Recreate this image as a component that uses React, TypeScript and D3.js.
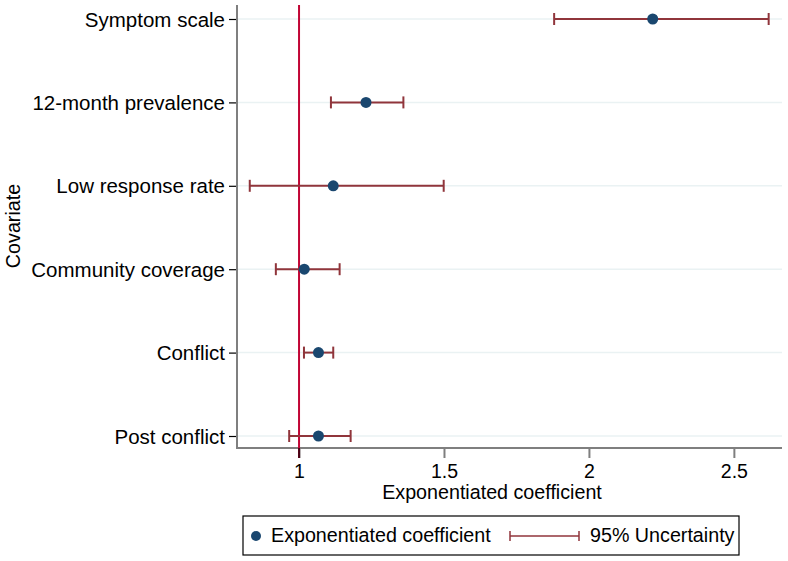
import React, { useEffect, useRef } from "react";
import * as d3 from "d3";

const covariates = [
  "Symptom scale",
  "12-month prevalence",
  "Low response rate",
  "Community coverage",
  "Conflict",
  "Post conflict",
];
const estimates = [2.22, 1.231, 1.118, 1.018, 1.067, 1.067];
const lowerCI = [1.88, 1.11, 0.83, 0.92, 1.017, 0.966];
const upperCI = [2.62, 1.36, 1.499, 1.14, 1.118, 1.178];
const xTicks = [1, 1.5, 2, 2.5];

const NAVY = "#1a476f";
const MAROON = "#90353b";
const REDLINE = "#c10534";
const AXIS = "#7f7f7f";
const FONT = "'Liberation Sans', Arial, sans-serif";

const App = () => {
  const ref = useRef<SVGSVGElement>(null);

  useEffect(() => {
    const svg = d3.select(ref.current);
    svg.selectAll("*").remove();

    const left = 237;
    const right = 782;
    const top = 5;
    const bottom = 448;

    const x = d3.scaleLinear().domain([0.786, 2.666]).range([left, right]);
    // rows spaced evenly, first at y=19, last at y=436
    const y = d3.scalePoint<string>().domain(covariates).range([19, 436]);

    const rows = covariates.map((c, i) => ({
      label: c,
      est: estimates[i],
      lo: lowerCI[i],
      hi: upperCI[i],
    }));

    svg.append("rect").attr("width", 788).attr("height", 561).attr("fill", "white");

    // light gridlines
    svg.append("g")
      .selectAll("line")
      .data(covariates)
      .enter()
      .append("line")
      .attr("x1", left)
      .attr("x2", right)
      .attr("y1", (d) => y(d)!)
      .attr("y2", (d) => y(d)!)
      .attr("stroke", "#eaf2f3")
      .attr("stroke-width", 1.5);

    // y axis
    const yAxis = svg.append("g")
      .attr("transform", `translate(${left - 1},0)`)
      .call(d3.axisLeft(y).tickSize(7).tickPadding(4));
    yAxis.select(".domain").remove();
    yAxis.selectAll(".tick line").attr("stroke", "#000").attr("stroke-width", 1.2);
    yAxis.selectAll(".tick text")
      .attr("font-family", FONT)
      .attr("font-size", 20.5)
      .attr("fill", "#000")
      .attr("dy", "0.35em");

    svg.append("line")
      .attr("x1", left).attr("x2", left)
      .attr("y1", top).attr("y2", bottom + 1)
      .attr("stroke", AXIS).attr("stroke-width", 2);

    // x axis
    const xAxis = svg.append("g")
      .attr("transform", `translate(0,${bottom + 1})`)
      .call(d3.axisBottom(x).tickValues(xTicks).tickFormat(d3.format("")).tickSize(9).tickPadding(6));
    xAxis.select(".domain").remove();
    xAxis.selectAll(".tick line").attr("stroke", AXIS).attr("stroke-width", 2);
    xAxis.selectAll(".tick text")
      .attr("font-family", FONT)
      .attr("font-size", 19.5)
      .attr("fill", "#000");

    svg.append("line")
      .attr("x1", left - 1).attr("x2", right)
      .attr("y1", bottom).attr("y2", bottom)
      .attr("stroke", AXIS).attr("stroke-width", 2);

    // reference line at 1
    svg.append("line")
      .attr("x1", x(1)).attr("x2", x(1))
      .attr("y1", top).attr("y2", bottom + 10)
      .attr("stroke", REDLINE).attr("stroke-width", 2);
    svg.append("line")
      .attr("x1", x(1)).attr("x2", x(1))
      .attr("y1", bottom).attr("y2", bottom + 10)
      .attr("stroke", "#000").attr("stroke-width", 1.2);

    // error bars
    const eb = svg.append("g").attr("stroke", MAROON).attr("stroke-width", 2);
    rows.forEach((r) => {
      const cy = y(r.label)!;
      eb.append("line").attr("x1", x(r.lo)).attr("x2", x(r.hi)).attr("y1", cy).attr("y2", cy);
      eb.append("line").attr("x1", x(r.lo)).attr("x2", x(r.lo)).attr("y1", cy - 6).attr("y2", cy + 6);
      eb.append("line").attr("x1", x(r.hi)).attr("x2", x(r.hi)).attr("y1", cy - 6).attr("y2", cy + 6);
    });

    // points
    svg.append("g")
      .selectAll("circle")
      .data(rows)
      .enter()
      .append("circle")
      .attr("cx", (d) => x(d.est))
      .attr("cy", (d) => y(d.label)!)
      .attr("r", 5.5)
      .attr("fill", NAVY);

    // axis titles
    svg.append("text")
      .attr("x", 492)
      .attr("y", 499)
      .attr("text-anchor", "middle")
      .attr("font-family", FONT)
      .attr("font-size", 19.7)
      .text("Exponentiated coefficient");

    svg.append("text")
      .attr("transform", "translate(20,226) rotate(-90)")
      .attr("text-anchor", "middle")
      .attr("font-family", FONT)
      .attr("font-size", 19.7)
      .text("Covariate");

    // legend
    const lg = svg.append("g");
    lg.append("rect")
      .attr("x", 243).attr("y", 516)
      .attr("width", 496).attr("height", 39)
      .attr("fill", "white").attr("stroke", "#000").attr("stroke-width", 1.2);
    lg.append("circle").attr("cx", 256).attr("cy", 536).attr("r", 5).attr("fill", NAVY);
    lg.append("text")
      .attr("x", 271).attr("y", 542)
      .attr("font-family", FONT).attr("font-size", 19.7)
      .text("Exponentiated coefficient");
    const le = lg.append("g").attr("stroke", MAROON).attr("stroke-width", 1.5);
    le.append("line").attr("x1", 510).attr("x2", 579).attr("y1", 536).attr("y2", 536);
    le.append("line").attr("x1", 510).attr("x2", 510).attr("y1", 531).attr("y2", 541);
    le.append("line").attr("x1", 579).attr("x2", 579).attr("y1", 531).attr("y2", 541);
    lg.append("text")
      .attr("x", 590).attr("y", 542)
      .attr("font-family", FONT).attr("font-size", 19.7)
      .text("95% Uncertainty");
  }, []);

  return (
    <svg
      ref={ref}
      width={788}
      height={561}
      style={{ position: "absolute", left: 0, top: 0, display: "block" }}
    />
  );
};

export default App;
